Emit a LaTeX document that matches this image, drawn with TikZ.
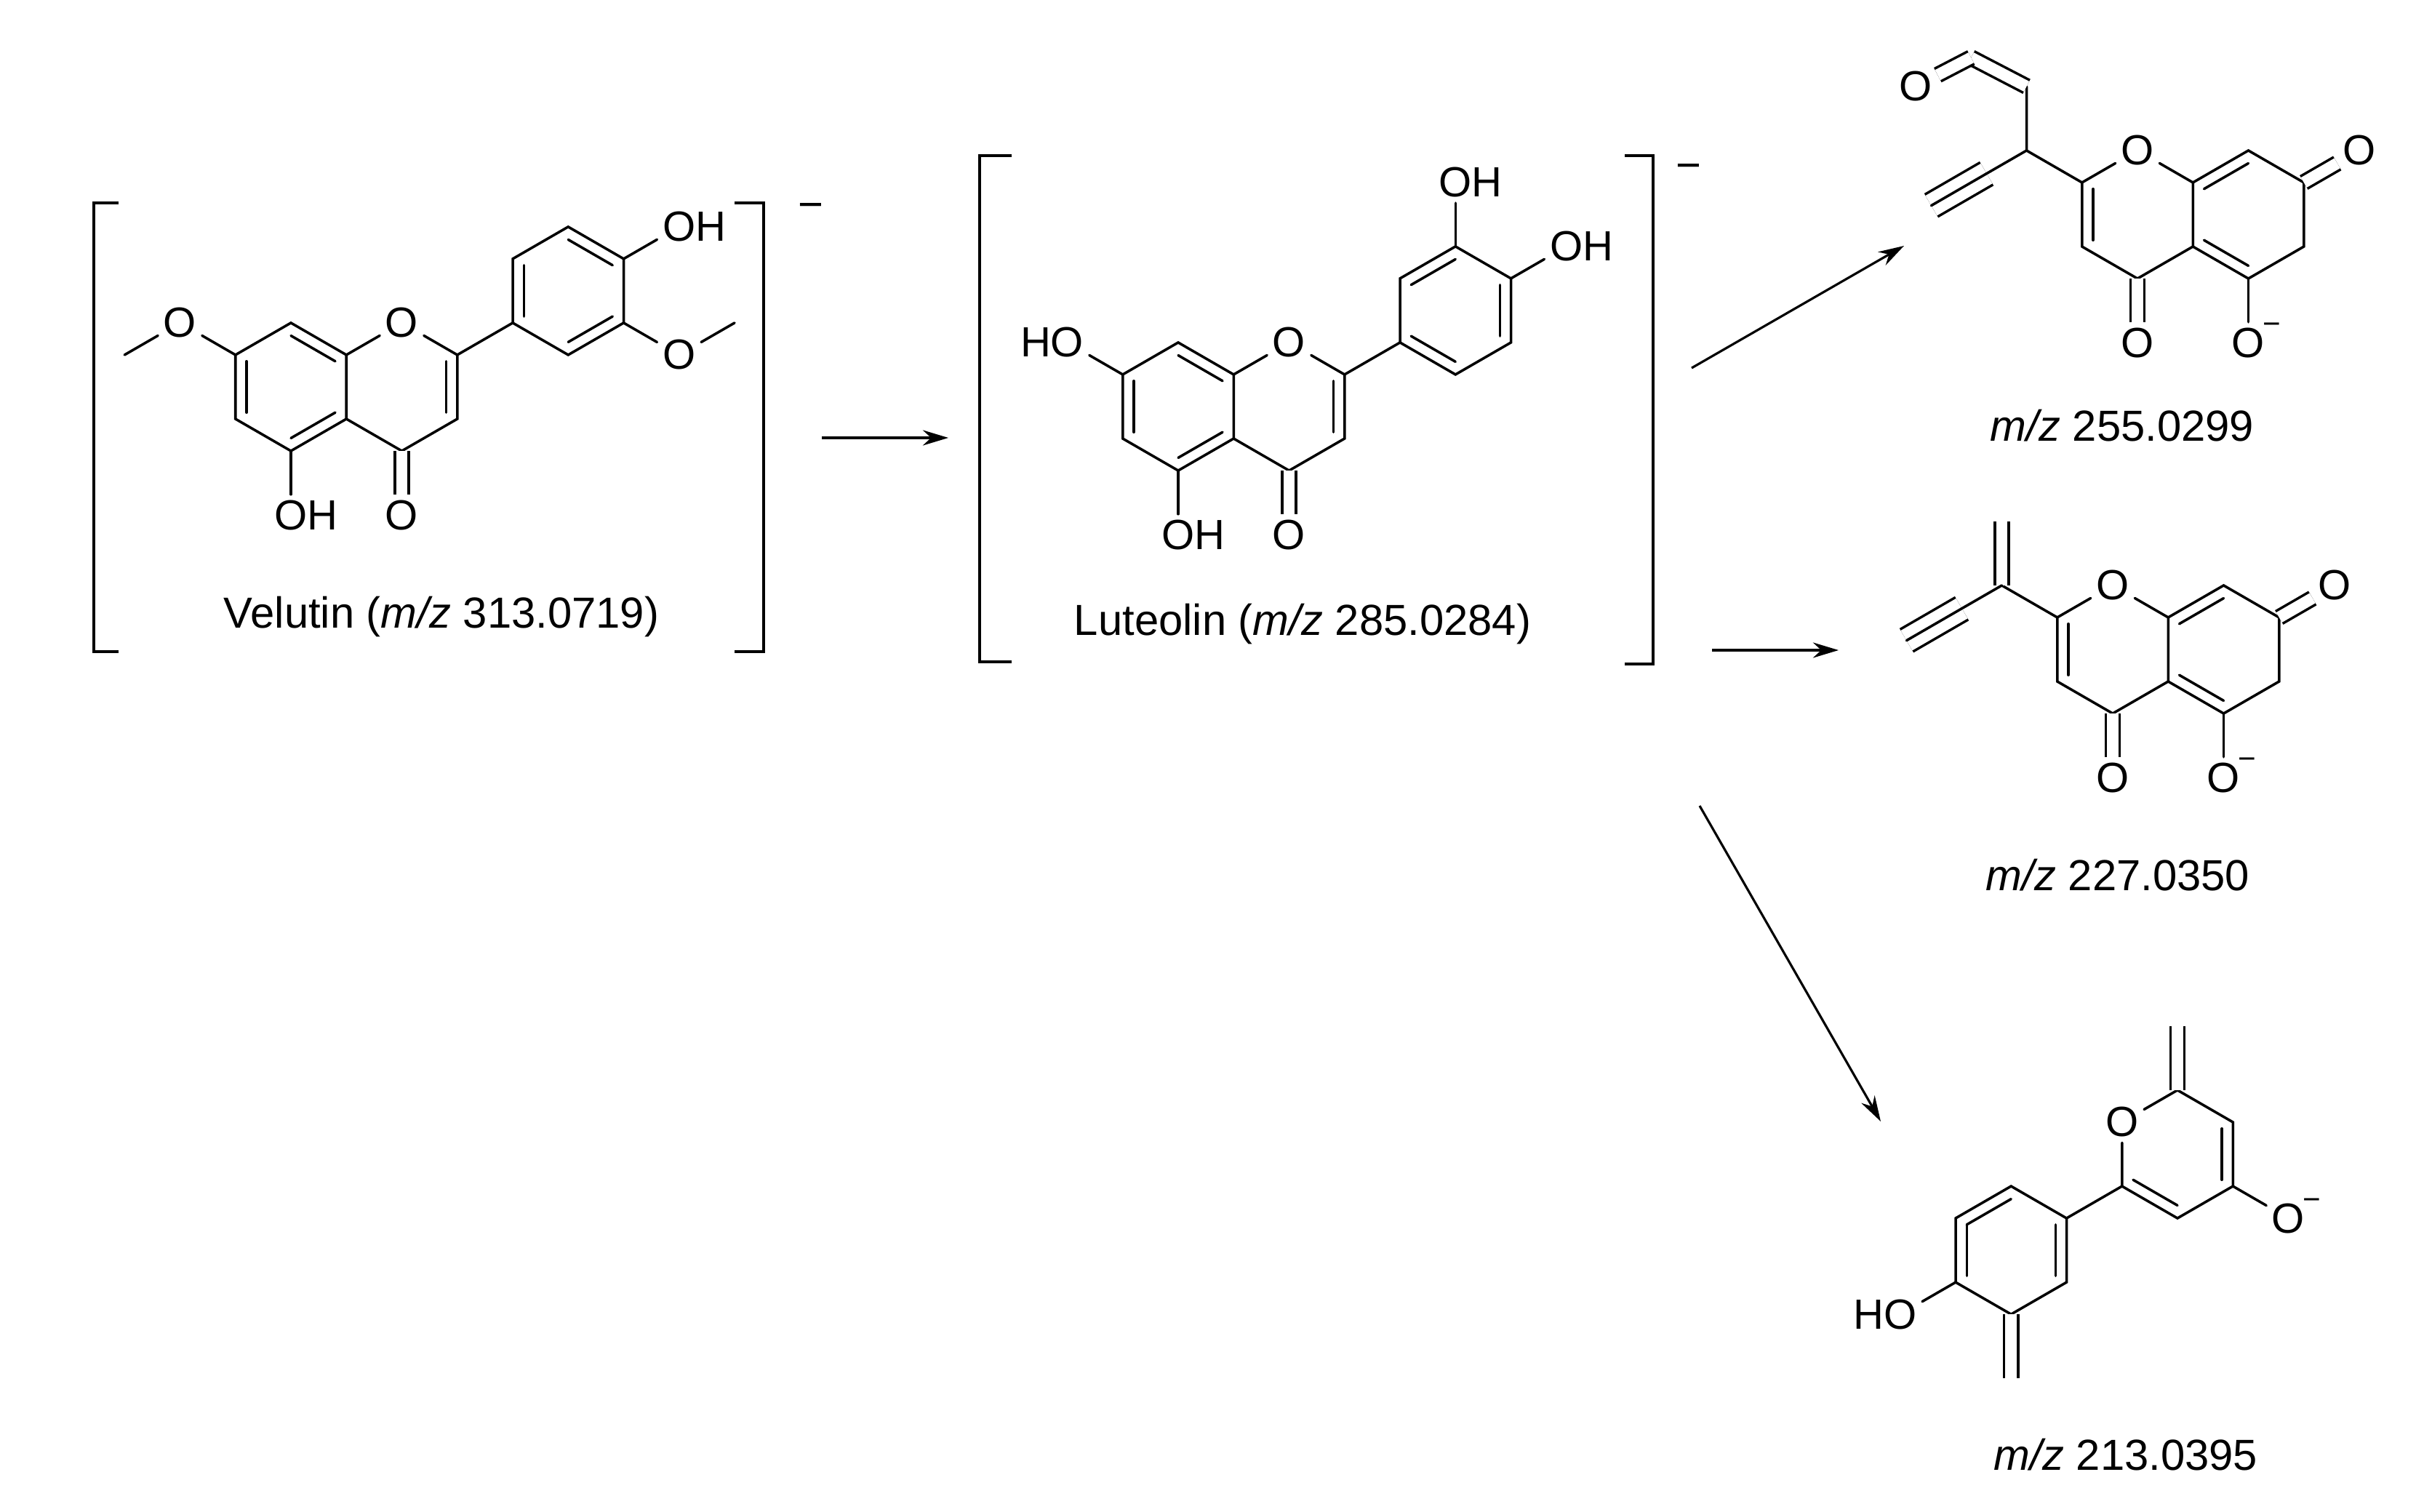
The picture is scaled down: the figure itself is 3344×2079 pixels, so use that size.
\documentclass[tikz,border=0pt]{standalone}
\usepackage{fontspec}
\setmainfont{Liberation Sans}
\usetikzlibrary{calc,arrows.meta}
\newcommand\inb[3]{\draw[bond] ($(#1)!0.2!(#3)$) -- ($(#2)!0.2!(#3)$);}
\tikzset{
 bond/.style={line width=1pt, line cap=round},
 dbl/.style={bond, double, double distance=4.5pt, line cap=butt},
 trp/.style={bond, double, double distance=9pt, line cap=butt},
 atom/.style={inner sep=2pt, font=\fontsize{16.5}{18}\selectfont},
 minus/.style={inner sep=0pt, font=\fontsize{12}{12}\selectfont, anchor=south west, xshift=-3pt, yshift=-5pt},
 lab/.style={font=\fontsize{17}{19}\selectfont},
 arr/.style={line width=0.9pt, -{Stealth[length=10pt,width=6pt]}},
 brk/.style={line width=1pt}
}
\begin{document}
\begin{tikzpicture}[x=0.01cm,y=-0.01cm]
\useasboundingbox (0,0) rectangle (3344,2079);
% ---------- Velutin ----------
\begin{scope}[shift={(400,532)},x=0.88cm,y=0.88cm]
\coordinate (vc) at (0,0); \coordinate (vcc) at (1.732,0);
\coordinate (v8) at (0,1); \coordinate (v8a) at (0.866,0.5); \coordinate (v4a) at (0.866,-0.5);
\coordinate (v5) at (0,-1); \coordinate (v6) at (-0.866,-0.5); \coordinate (v7) at (-0.866,0.5);
\coordinate (v2) at (2.598,0.5); \coordinate (v3) at (2.598,-0.5); \coordinate (v4) at (1.732,-1);
\node[atom] (vO1) at (1.732,1) {O};
\node[atom] (vO4) at (1.732,-2) {O};
\node[atom] (vO5) at (0,-2) {O\rlap{H}};
\node[atom] (vO7) at (-1.732,1) {O};
\coordinate (vMe) at (-2.598,0.5);
\coordinate (vbc) at (4.33,1.5);
\coordinate (v1p) at (3.464,1); \coordinate (vb2) at (3.464,2); \coordinate (vb3) at (4.33,2.5);
\coordinate (vb4) at (5.196,2); \coordinate (vb5) at (5.196,1); \coordinate (vb6) at (4.33,0.5);
\node[atom] (vOH) at (6.062,2.5) {O\rlap{H}};
\node[atom] (vOM) at (6.062,0.5) {O};
\coordinate (vMe2) at (6.928,1);
\end{scope}
\draw[bond] (v8)--(v8a)--(v4a)--(v5)--(v6)--(v7)--cycle;
\draw[bond] (v8a)--(vO1)--(v2)--(v3)--(v4)--(v4a);
\draw[dbl] (v4)--(vO4);
\draw[bond] (v5)--(vO5);
\draw[bond] (v7)--(vO7)--(vMe);
\draw[bond] (v2)--(v1p);
\draw[bond] (v1p)--(vb2)--(vb3)--(vb4)--(vb5)--(vb6)--cycle;
\draw[bond] (vb4)--(vOH);
\draw[bond] (vb5)--(vOM)--(vMe2);
\inb{v8}{v8a}{vc} \inb{v6}{v7}{vc} \inb{v4a}{v5}{vc}
\inb{v2}{v3}{vcc}
\inb{v1p}{vb2}{vbc} \inb{vb3}{vb4}{vbc} \inb{vb5}{vb6}{vbc}
\node[lab] (vcap) at (607,848) {Velutin (\textit{m/z} 313.0719)};
\draw[brk] (163,279)--(129,279)--(129,896)--(163,896);
\draw[brk] (1010,279)--(1050,279)--(1050,896)--(1010,896);
\node[lab] (vneg) at (1115,290) {−};
% ---------- Luteolin ----------
\begin{scope}[shift={(1620,559)},x=0.88cm,y=0.88cm]
\coordinate (lc) at (0,0); \coordinate (lcc) at (1.732,0);
\coordinate (l8) at (0,1); \coordinate (l8a) at (0.866,0.5); \coordinate (l4a) at (0.866,-0.5);
\coordinate (l5) at (0,-1); \coordinate (l6) at (-0.866,-0.5); \coordinate (l7) at (-0.866,0.5);
\coordinate (l2) at (2.598,0.5); \coordinate (l3) at (2.598,-0.5); \coordinate (l4) at (1.732,-1);
\node[atom] (lO1) at (1.732,1) {O};
\node[atom] (lO4) at (1.732,-2) {O};
\node[atom] (lO5) at (0,-2) {O\rlap{H}};
\node[atom] (lO7) at (-1.732,1) {\llap{H}O};
\coordinate (lbc) at (4.33,1.5);
\coordinate (l1p) at (3.464,1); \coordinate (lb2) at (3.464,2); \coordinate (lb3) at (4.33,2.5);
\coordinate (lb4) at (5.196,2); \coordinate (lb5) at (5.196,1); \coordinate (lb6) at (4.33,0.5);
\node[atom] (lOH3) at (4.33,3.5) {O\rlap{H}};
\node[atom] (lOH4) at (6.062,2.5) {O\rlap{H}};
\end{scope}
\draw[bond] (l8)--(l8a)--(l4a)--(l5)--(l6)--(l7)--cycle;
\draw[bond] (l8a)--(lO1)--(l2)--(l3)--(l4)--(l4a);
\draw[dbl] (l4)--(lO4);
\draw[bond] (l5)--(lO5);
\draw[bond] (l7)--(lO7);
\draw[bond] (l2)--(l1p);
\draw[bond] (l1p)--(lb2)--(lb3)--(lb4)--(lb5)--(lb6)--cycle;
\draw[bond] (lb3)--(lOH3);
\draw[bond] (lb4)--(lOH4);
\inb{l8}{l8a}{lc} \inb{l6}{l7}{lc} \inb{l4a}{l5}{lc}
\inb{l2}{l3}{lcc}
\inb{lb2}{lb3}{lbc} \inb{lb4}{lb5}{lbc} \inb{lb6}{l1p}{lbc}
\node[lab] (lcap) at (1791,858) {Luteolin (\textit{m/z} 285.0284)};
\draw[brk] (1391,214)--(1347,214)--(1347,910)--(1391,910);
\draw[brk] (2234,214)--(2273,214)--(2273,913)--(2234,913);
\node[lab] (lneg) at (2322,236) {−};
% ---------- Product 1 ----------
\begin{scope}[shift={(2939,295)},x=0.88cm,y=0.88cm]
\coordinate (pcc) at (0,0); \coordinate (pac) at (1.732,0);
\node[atom] (pO1) at (0,1) {O};
\coordinate (p2) at (-0.866,0.5); \coordinate (p3) at (-0.866,-0.5); \coordinate (p4) at (0,-1);
\coordinate (p4a) at (0.866,-0.5); \coordinate (p8a) at (0.866,0.5);
\coordinate (p8) at (1.732,1); \coordinate (p7) at (2.598,0.5); \coordinate (p6) at (2.598,-0.5); \coordinate (p5) at (1.732,-1);
\node[atom] (pO4) at (0,-2) {O};
\node[atom] (pO5) at (1.732,-2) {O};
\node[atom] (pO7) at (3.464,1) {O};
\coordinate (pCH) at (-1.732,1); \coordinate (pCa) at (-1.732,2); \coordinate (pCb) at (-2.598,2.45);
\node[atom] (pOald) at (-3.464,2.0) {O};
\coordinate (pSp) at (-2.356,0.64); \coordinate (pEnd) at (-3.22,0.14);
\end{scope}
\draw[bond] (pO1)--(p2)--(p3)--(p4)--(p4a)--(p8a)--(pO1);
\draw[bond] (p8a)--(p8)--(p7)--(p6)--(p5)--(p4a);
\draw[dbl] (p4)--(pO4);
\draw[dbl] (p7)--(pO7);
\draw[bond] (p5)--(pO5);
\inb{p2}{p3}{pcc} \inb{p8}{p8a}{pac} \inb{p4a}{p5}{pac}
\draw[bond] (p2)--(pCH)--(pCa);
\draw[dbl] (pCa)--(pCb);
\draw[dbl] (pCb)--(pOald);
\draw[bond] (pCH)--(pSp);
\draw[trp] (pSp)--(pEnd); \draw[bond] (pSp)--(pEnd);
\node[minus] (pneg) at (pO5.north east) {−};
\node[lab] (pcap) at (2918,585) {\textit{m/z} 255.0299};
% ---------- Product 2 ----------
\begin{scope}[shift={(2905,893)},x=0.88cm,y=0.88cm]
\coordinate (qcc) at (0,0); \coordinate (qac) at (1.732,0);
\node[atom] (qO1) at (0,1) {O};
\coordinate (q2) at (-0.866,0.5); \coordinate (q3) at (-0.866,-0.5); \coordinate (q4) at (0,-1);
\coordinate (q4a) at (0.866,-0.5); \coordinate (q8a) at (0.866,0.5);
\coordinate (q8) at (1.732,1); \coordinate (q7) at (2.598,0.5); \coordinate (q6) at (2.598,-0.5); \coordinate (q5) at (1.732,-1);
\node[atom] (qO4) at (0,-2) {O};
\node[atom] (qO5) at (1.732,-2) {O};
\node[atom] (qO7) at (3.464,1) {O};
\coordinate (qC) at (-1.732,1); \coordinate (qCH2) at (-1.732,2);
\coordinate (qSp) at (-2.356,0.64); \coordinate (qEnd) at (-3.22,0.14);
\end{scope}
\draw[bond] (qO1)--(q2)--(q3)--(q4)--(q4a)--(q8a)--(qO1);
\draw[bond] (q8a)--(q8)--(q7)--(q6)--(q5)--(q4a);
\draw[dbl] (q4)--(qO4);
\draw[dbl] (q7)--(qO7);
\draw[bond] (q5)--(qO5);
\inb{q2}{q3}{qcc} \inb{q8}{q8a}{qac} \inb{q4a}{q5}{qac}
\draw[bond] (q2)--(qC);
\draw[dbl] (qC)--(qCH2);
\draw[bond] (qC)--(qSp);
\draw[trp] (qSp)--(qEnd); \draw[bond] (qSp)--(qEnd);
\node[minus] (qneg) at (qO5.north east) {−};
\node[lab] (qcap) at (2912,1203) {\textit{m/z} 227.0350};
% ---------- Product 3 ----------
\begin{scope}[shift={(2994,1587)},x=0.88cm,y=0.88cm]
\coordinate (rc) at (0,0);
\node[atom] (rO) at (-0.866,0.5) {O};
\coordinate (r2) at (0,1); \coordinate (r3) at (0.866,0.5); \coordinate (r4) at (0.866,-0.5);
\coordinate (r5) at (0,-1); \coordinate (r6) at (-0.866,-0.5);
\coordinate (rCH2) at (0,2);
\node[atom] (rOm) at (1.732,-1) {O};
\coordinate (ac) at (-2.598,-1.5);
\coordinate (a1) at (-1.732,-1); \coordinate (a2) at (-2.598,-0.5); \coordinate (a3) at (-3.464,-1);
\coordinate (a4) at (-3.464,-2); \coordinate (a5) at (-2.598,-2.5); \coordinate (a6) at (-1.732,-2);
\node[atom] (rHO) at (-4.33,-2.5) {\llap{H}O};
\coordinate (aCH2) at (-2.598,-3.5);
\end{scope}
\draw[bond] (rO)--(r2)--(r3)--(r4)--(r5)--(r6)--(rO);
\draw[dbl] (r2)--(rCH2);
\draw[bond] (r4)--(rOm);
\inb{r3}{r4}{rc} \inb{r5}{r6}{rc}
\draw[bond] (r6)--(a1);
\draw[bond] (a1)--(a2)--(a3)--(a4)--(a5)--(a6)--cycle;
\inb{a2}{a3}{ac} \inb{a3}{a4}{ac} \inb{a1}{a6}{ac}
\draw[bond] (a4)--(rHO);
\draw[dbl] (a5)--(aCH2);
\node[minus] (rneg) at (rOm.north east) {−};
\node[lab] (rcap) at (2923,2000) {\textit{m/z} 213.0395};
% ---------- Arrows ----------
\coordinate (s1) at (1130,602); \coordinate (e1) at (1304,602);
\coordinate (s2) at (2326,506); \coordinate (e2) at (2618,338);
\coordinate (s3) at (2354,894); \coordinate (e3) at (2528,894);
\coordinate (s4) at (2337,1108); \coordinate (e4) at (2586,1542);
\draw[arr] (s1)--(e1);
\draw[arr] (s2)--(e2);
\draw[arr] (s3)--(e3);
\draw[arr] (s4)--(e4);
\end{tikzpicture}
\end{document}
